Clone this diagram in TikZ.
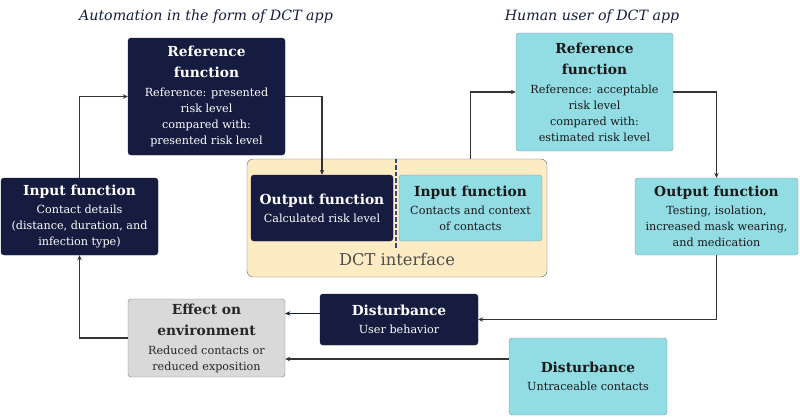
\documentclass[tikz,border=0pt]{standalone}
\usepackage{fontspec}
\setmainfont{DejaVu Serif}
\usetikzlibrary{positioning,calc,arrows.meta}

\definecolor{navy}{HTML}{161C40}
\definecolor{dashblue}{HTML}{2E4C80}
\definecolor{cyanbox}{HTML}{92DCE4}
\definecolor{cream}{HTML}{FDEBC4}
\definecolor{grayenv}{HTML}{D9D9D9}
\definecolor{linegray}{HTML}{333333}

\newcommand{\hd}[1]{{\fontsize{13.8}{16}\selectfont\bfseries #1}}

\tikzset{
  darkbox/.style={draw=navy, fill=navy, text=white, rounded corners=3pt, align=center,
    inner sep=0pt, font=\fontsize{11.2}{16}\selectfont},
  lightbox/.style={draw=gray!70!cyanbox, fill=cyanbox, text=black!90, rounded corners=3pt,
    align=center, inner sep=0pt, font=\fontsize{11.2}{16}\selectfont},
  envbox/.style={draw=gray, fill=grayenv, text=black!85, rounded corners=3pt, align=center,
    inner sep=0pt, font=\fontsize{11.2}{16}\selectfont},
  conn/.style={draw=linegray, line width=1.6pt, -{Stealth[length=5pt,width=4.5pt]}},
  heading/.style={text=navy, font=\fontsize{14.2}{16}\selectfont\itshape}
}

\begin{document}
\begin{tikzpicture}[x=1pt, y=-1pt]
  \useasboundingbox (0,0) rectangle (800,416);
  %\draw[step=50,gray,very thin] (0,0) grid (800,416);
  \node[heading] (autoTitle) at (206,17) {Automation in the form of DCT app};
  \node[heading] (userTitle) at (592,17) {Human user of DCT app};

  % automation side
  \node[darkbox, minimum width=157pt, minimum height=117pt] (refL) at (206.5,96.5)
    {\hd{Reference}\\[5pt]\hd{function}\\[3pt]Reference: presented\\risk level\\compared with:\\presented risk level};
  \node[darkbox, minimum width=157pt, minimum height=77pt] (inL) at (79.5,216.5)
    {\hd{Input function}\\[2pt]Contact details\\(distance, duration, and\\infection type)};

  % interface
  \node[draw=dashblue!60!gray, fill=cream, rounded corners=6pt, minimum width=300pt, minimum height=118pt] (dct) at (397,218) {};
  \node[text=black!70, font=\fontsize{16.3}{18}\selectfont] (dctLabel) at (397,259) {DCT interface};
  \node[darkbox, minimum width=142pt, minimum height=66pt] (outL) at (322,208)
    {\hd{Output function}\\[2pt]Calculated risk level};
  \node[lightbox, minimum width=143pt, minimum height=66pt] (inR) at (470.5,208)
    {\hd{Input function}\\[2pt]Contacts and context\\of contacts};
  \draw[dashblue, line width=1.4pt, dash pattern=on 4.5pt off 2pt] (dct.north -| 396,0) -- (396,248);

  % user side
  \node[lightbox, minimum width=157pt, minimum height=118pt] (refR) at (594.5,92)
    {\hd{Reference}\\[5pt]\hd{function}\\[3pt]Reference: acceptable\\risk level\\compared with:\\estimated risk level};
  \node[lightbox, minimum width=163pt, minimum height=77pt] (outR) at (716.5,216.5)
    {\hd{Output function}\\[2pt]Testing, isolation,\\increased mask wearing,\\and medication};

  % environment and disturbances
  \node[darkbox, minimum width=158pt, minimum height=51pt] (distD) at (399,319.5)
    {\hd{Disturbance}\\[2pt]User behavior};
  \node[envbox, minimum width=157pt, minimum height=78pt] (effect) at (206.5,338)
    {\hd{Effect on}\\[5pt]\hd{environment}\\[3pt]Reduced contacts or\\reduced exposition};
  \node[lightbox, minimum width=158pt, minimum height=77pt] (distC) at (588,376.5)
    {\hd{Disturbance}\\[2pt]Untraceable contacts};

  \draw[conn] (inL.north) |- (refL.west);
  \draw[conn] (refL.east) -| (outL.north);
  \draw[conn] (inR.north |- dct.north) |- (refR.west);
  \draw[conn] (refR.east) -| (outR.north);
  \draw[conn] (outR.south) |- (distD.east);
  \draw[conn, draw=navy] ([yshift=6pt]distD.west) -- ([yshift=6pt]distD.west -| effect.east);
  \draw[conn] ([yshift=17.5pt]distC.west) -- ([yshift=17.5pt]distC.west -| effect.east);
  \draw[conn] (effect.west) -| (inL.south);
\end{tikzpicture}
\end{document}
